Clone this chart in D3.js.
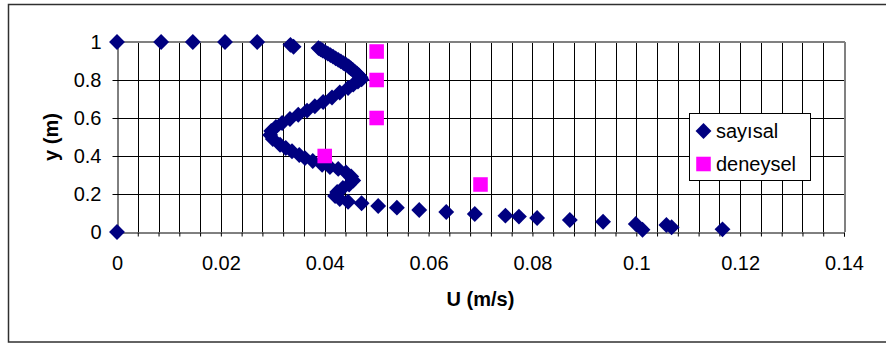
<!DOCTYPE html>
<html>
<head>
<meta charset="utf-8">
<script src="https://cdn.jsdelivr.net/npm/d3@7"></script>
<style>
  html, body { margin: 0; padding: 0; background: #fff; }
  svg { display: block; }
  text { font-family: Arial, "Liberation Sans", sans-serif; fill: #000; }
</style>
</head>
<body>
<svg id="chart" width="886" height="345"></svg>
<script>
// Numerical velocity profile (sayısal): U (m/s) and y (m)
const sayisalU = [
  0, 0.0085, 0.0146, 0.0208, 0.0270, 0.0334, 0.0340,
  0.0388, 0.0392, 0.0396, 0.0401, 0.0406, 0.0411, 0.0416, 0.0421, 0.0426, 0.0431,
  0.0436, 0.0441, 0.0446, 0.0450, 0.0454, 0.0458, 0.0462, 0.0466, 0.0469, 0.0471,
  0.0464, 0.0455, 0.0445, 0.0429, 0.0414, 0.0397, 0.0381, 0.0366, 0.0349, 0.0333,
  0.0318, 0.0306, 0.0297, 0.0295, 0.0300, 0.0314, 0.0325, 0.0337, 0.0351, 0.0362,
  0.0377, 0.0395, 0.0410, 0.0426, 0.0441, 0.0451, 0.0455, 0.0447, 0.0435, 0.0424,
  0.0420, 0.0429,
  0.0445, 0.0471, 0.0503, 0.0539, 0.0582, 0.0634, 0.0689, 0.0748, 0.0774, 0.0809,
  0.0872, 0.0936, 0.0999, 0.1012, 0.1058, 0.1068, 0.1166,
  0
];
const sayisalY = [
  1, 1, 1, 1, 1, 0.985, 0.975,
  0.968, 0.962, 0.955, 0.947, 0.939, 0.931, 0.923, 0.914, 0.906, 0.898,
  0.889, 0.880, 0.871, 0.862, 0.853, 0.843, 0.834, 0.824, 0.814, 0.803,
  0.792, 0.776, 0.758, 0.734, 0.708, 0.684, 0.662, 0.639, 0.617, 0.595,
  0.574, 0.553, 0.532, 0.511, 0.489, 0.459, 0.442, 0.425, 0.405, 0.389,
  0.374, 0.354, 0.342, 0.332, 0.313, 0.292, 0.271, 0.250, 0.232, 0.211,
  0.189, 0.174,
  0.159, 0.151, 0.137, 0.128, 0.116, 0.105, 0.095, 0.086, 0.081, 0.074,
  0.063, 0.054, 0.042, 0.012, 0.037, 0.025, 0.014,
  0
];

// Experimental measurements (deneysel)
const deneyselU = [0.05, 0.05, 0.05, 0.04, 0.07];
const deneyselY = [0.95, 0.80, 0.60, 0.40, 0.25];

// Axis tick labels
const xTicks = [0, 0.02, 0.04, 0.06, 0.08, 0.1, 0.12, 0.14];
const yTicks = [0, 0.2, 0.4, 0.6, 0.8, 1];
const xTickText = ["0", "0.02", "0.04", "0.06", "0.08", "0.1", "0.12", "0.14"];
const yTickText = ["0", "0.2", "0.4", "0.6", "0.8", "1"];

const seriesNames = ["sayısal", "deneysel"];
const colors = ["#000080", "#FF00FF"];

const svg = d3.select("#chart");

// Outer chart frame
svg.append("rect")
  .attr("x", 8.5).attr("y", 4.5)
  .attr("width", 900).attr("height", 337.5)
  .attr("fill", "#fff")
  .attr("stroke", "#303030")
  .attr("stroke-width", 1.5);

const plotLeft = 117, plotRight = 844, plotTop = 42, plotBottom = 232;
const x = d3.scaleLinear().domain([0, 0.14]).range([plotLeft, plotRight]);
const y = d3.scaleLinear().domain([0, 1]).range([plotBottom, plotTop]);

// Minor x positions every 0.004
const xMinor = d3.range(0, 36).map(i => i * 0.004);

const grid = svg.append("g").attr("shape-rendering", "crispEdges");
grid.selectAll("line.vg").data(xMinor.slice(1)).join("line")
  .attr("x1", d => Math.round(x(d)) + 0.5).attr("x2", d => Math.round(x(d)) + 0.5)
  .attr("y1", plotTop).attr("y2", plotBottom)
  .attr("stroke", "#000").attr("stroke-width", 1);
grid.selectAll("line.hg").data(yTicks.slice(1)).join("line")
  .attr("x1", plotLeft).attr("x2", plotRight)
  .attr("y1", d => Math.round(y(d)) + 0.5).attr("y2", d => Math.round(y(d)) + 0.5)
  .attr("stroke", "#000").attr("stroke-width", 1);

// Plot-area border (top and right in grey)
grid.append("line").attr("x1", plotLeft).attr("x2", plotRight + 1)
  .attr("y1", plotTop).attr("y2", plotTop)
  .attr("stroke", "#808080").attr("stroke-width", 2);
grid.append("line").attr("x1", plotRight + 0.5).attr("x2", plotRight + 0.5)
  .attr("y1", plotTop).attr("y2", plotBottom)
  .attr("stroke", "#808080").attr("stroke-width", 2);

// X axis: minor ticks, then labelled major ticks
const xAxisMinor = d3.axisBottom(x).tickValues(xMinor).tickSize(4).tickFormat("");
const gx = svg.append("g").attr("transform", `translate(0,${plotBottom + 0.5})`).call(xAxisMinor);
gx.select(".domain").attr("stroke", "#000");
gx.selectAll(".tick line").attr("stroke", "#000");

const gxLab = svg.append("g").attr("transform", `translate(0,${plotBottom})`)
  .call(d3.axisBottom(x).tickValues(xTicks).tickSize(0).tickPadding(0)
    .tickFormat((d, i) => xTickText[i]));
gxLab.select(".domain").remove();
gxLab.selectAll(".tick text")
  .attr("y", 38).attr("dy", null)
  .style("font-size", "20px").style("font-family", "Arial, 'Liberation Sans', sans-serif");

// Y axis
const gy = svg.append("g").attr("transform", `translate(${plotLeft + 0.5},0)`)
  .call(d3.axisLeft(y).tickValues(yTicks).tickSize(5).tickPadding(11)
    .tickFormat((d, i) => yTickText[i]));
gy.select(".domain").attr("stroke", "#000");
gy.selectAll(".tick line").attr("stroke", "#000");
gy.selectAll(".tick text")
  .attr("dy", "0.34em")
  .style("font-size", "20px").style("font-family", "Arial, 'Liberation Sans', sans-serif");

// Axis titles
svg.append("text")
  .attr("x", (plotLeft + plotRight) / 2).attr("y", 306)
  .attr("text-anchor", "middle")
  .style("font-size", "20px").style("font-weight", "bold")
  .text("U (m/s)");
svg.append("text")
  .attr("transform", `translate(58,${(plotTop + plotBottom) / 2}) rotate(-90)`)
  .attr("text-anchor", "middle")
  .style("font-size", "20px").style("font-weight", "bold")
  .text("y (m)");

// Markers
const diamond = d3.symbol().type(d3.symbolSquare).size(126);
const square = d3.symbol().type(d3.symbolSquare).size(212);

const sayisal = sayisalU.map((u, i) => ({ u, y: sayisalY[i] }));
const deneysel = deneyselU.map((u, i) => ({ u, y: deneyselY[i] }));

svg.append("g").selectAll("path").data(sayisal).join("path")
  .attr("d", diamond)
  .attr("transform", d => `translate(${x(d.u)},${y(d.y)}) rotate(45)`)
  .attr("fill", colors[0]);

svg.append("g").selectAll("path").data(deneysel).join("path")
  .attr("d", square)
  .attr("transform", d => `translate(${x(d.u)},${y(d.y)})`)
  .attr("fill", colors[1]);

// Legend
const lg = svg.append("g");
lg.append("rect")
  .attr("x", 689.5).attr("y", 113.5).attr("width", 121).attr("height", 67)
  .attr("fill", "#fff").attr("stroke", "#000").attr("stroke-width", 1);
lg.append("path").attr("d", diamond)
  .attr("transform", "translate(703.5,131) rotate(45)").attr("fill", colors[0]);
lg.append("path").attr("d", square)
  .attr("transform", "translate(703.5,164)").attr("fill", colors[1]);
lg.append("text").attr("x", 716).attr("y", 138).style("font-size", "20px").text(seriesNames[0]);
lg.append("text").attr("x", 716).attr("y", 171).style("font-size", "20px").text(seriesNames[1]);
</script>
</body>
</html>
